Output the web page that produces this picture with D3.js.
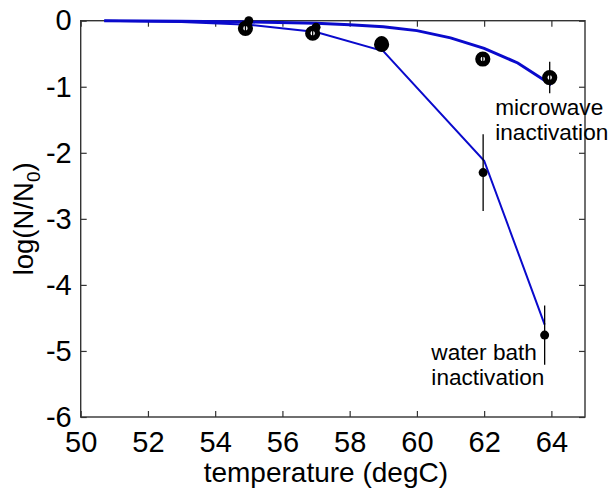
<!DOCTYPE html>
<html lang="en">
<head>
  <meta charset="UTF-8">
  <title>log(N/N0) vs temperature</title>
  <style>
    body { margin: 0; background: #fff; }
    svg { display: block; font-family: "Liberation Sans", Arial, sans-serif; }
  </style>
</head>
<body>
  <div id="chart-container"></div>

  <script src="https://d3js.org/d3.v7.min.js"></script>
  <script>
    // measured points (temperature, log reduction, error)
    const mwTemps = [54.9, 56.9, 58.95, 61.96, 63.95];
    const mwValues = [-0.115, -0.19, -0.36, -0.58, -0.86];
    const mwErrors = [0.05, 0.05, 0.05, 0.08, 0.24];

    const wbTemps = [55.0, 57.0, 58.95, 61.97, 63.8];
    const wbValues = [0.0, -0.1, -0.33, -2.3, -4.76];
    const wbErrors = [0.05, 0.05, 0.08, 0.58, 0.45];

    // model curves
    const mwFitTemps = [50.7, 53, 55, 57, 58, 59, 60, 61, 62, 63, 64];
    const mwFitValues = [0, -0.01, -0.02, -0.04, -0.06, -0.09, -0.15, -0.26, -0.42, -0.64, -0.97];

    const wbFitTemps = [50.7, 53, 55, 57, 59, 62, 63.8];
    const wbFitValues = [0, -0.02, -0.06, -0.17, -0.46, -2.12, -4.6];

    const xTicks = [50, 52, 54, 56, 58, 60, 62, 64];
    const yTicks = [0, -1, -2, -3, -4, -5, -6];

    const width = 614;
    const height = 500;
    const margin = { top: 20.7, right: 29, bottom: 83, left: 80.7 };
    const plotW = width - margin.left - margin.right;
    const plotH = height - margin.top - margin.bottom;

    const svg = d3.select('#chart-container')
      .append('svg')
      .attr('width', width)
      .attr('height', height);

    const g = svg.append('g')
      .attr('transform', `translate(${margin.left}, ${margin.top})`);

    const xScale = d3.scaleLinear().domain([50, 65]).range([0, plotW]);
    const yScale = d3.scaleLinear().domain([-6, 0]).range([plotH, 0]);

    const tickColor = '#333';

    // bottom axis with labels
    const xAxis = g.append('g')
      .attr('transform', `translate(0, ${plotH})`)
      .call(d3.axisBottom(xScale).tickValues(xTicks).tickSizeInner(-6).tickSizeOuter(0)
        .tickPadding(14).tickFormat(d => String(d)));
    // left axis with labels
    const yAxis = g.append('g')
      .call(d3.axisLeft(yScale).tickValues(yTicks).tickSizeInner(-6).tickSizeOuter(0)
        .tickPadding(9).tickFormat(d => String(d)));
    // top and right ticks only
    const topAxis = g.append('g')
      .call(d3.axisTop(xScale).tickValues(xTicks).tickSizeInner(-6).tickSizeOuter(0).tickFormat(''));
    const rightAxis = g.append('g')
      .attr('transform', `translate(${plotW}, 0)`)
      .call(d3.axisRight(yScale).tickValues(yTicks).tickSizeInner(-6).tickSizeOuter(0).tickFormat(''));

    [xAxis, yAxis, topAxis, rightAxis].forEach(a => {
      a.select('.domain').remove();
      a.selectAll('.tick line').attr('stroke', tickColor).attr('stroke-width', 1.2);
      a.selectAll('.tick text')
        .attr('fill', '#000')
        .style('font-size', '29px')
        .style('font-family', '"Liberation Sans", Arial, sans-serif');
    });

    // frame
    g.append('rect')
      .attr('x', 0).attr('y', 0)
      .attr('width', plotW).attr('height', plotH)
      .attr('fill', 'none')
      .attr('stroke', tickColor)
      .attr('stroke-width', 1.4);

    // fit lines
    const line = d3.line()
      .x(d => xScale(d[0]))
      .y(d => yScale(d[1]));

    g.append('path')
      .datum(mwFitTemps.map((t, i) => [t, mwFitValues[i]]))
      .attr('d', line)
      .attr('fill', 'none')
      .attr('stroke', '#0a0acc')
      .attr('stroke-width', 3);

    g.append('path')
      .datum(wbFitTemps.map((t, i) => [t, wbFitValues[i]]))
      .attr('d', line)
      .attr('fill', 'none')
      .attr('stroke', '#0a0acc')
      .attr('stroke-width', 2);

    const wbData = wbTemps.map((t, i) => ({ t: t, v: wbValues[i], e: wbErrors[i] }));
    const mwData = mwTemps.map((t, i) => ({ t: t, v: mwValues[i], e: mwErrors[i] }));

    // microwave: thick open circles
    g.selectAll('.mw-dot')
      .data(mwData)
      .enter()
      .append('circle')
      .attr('class', 'mw-dot')
      .attr('cx', d => xScale(d.t))
      .attr('cy', d => yScale(d.v))
      .attr('r', 4.9)
      .attr('fill', '#fff')
      .attr('stroke', '#000')
      .attr('stroke-width', 5.4);

    // water bath: filled dots
    g.selectAll('.wb-dot')
      .data(wbData)
      .enter()
      .append('circle')
      .attr('class', 'wb-dot')
      .attr('cx', d => xScale(d.t))
      .attr('cy', d => yScale(d.v))
      .attr('r', (d, i) => i == 2 ? 6.5 : 4.5)
      .attr('fill', '#000');

    // error bars
    g.selectAll('.err')
      .data(wbData.concat(mwData))
      .enter()
      .append('line')
      .attr('class', 'err')
      .attr('x1', d => xScale(d.t))
      .attr('x2', d => xScale(d.t))
      .attr('y1', d => yScale(d.v + d.e))
      .attr('y2', d => yScale(d.v - d.e))
      .attr('stroke', '#000')
      .attr('stroke-width', 1.3);

    // annotations
    const note = g.append('g')
      .style('font-size', '22.6px')
      .attr('fill', '#000');
    note.append('text').attr('x', xScale(62.33)).attr('y', yScale(-1.43)).text('microwave');
    note.append('text').attr('x', xScale(62.33)).attr('y', yScale(-1.81)).text('inactivation');
    note.append('text').attr('x', xScale(60.43)).attr('y', yScale(-5.13)).text('water bath');
    note.append('text').attr('x', xScale(60.43)).attr('y', yScale(-5.52)).text('inactivation');

    // axis titles
    svg.append('text')
      .attr('x', margin.left + plotW / 2 - 7)
      .attr('y', 482)
      .attr('text-anchor', 'middle')
      .style('font-size', '28px')
      .text('temperature (degC)');

    const yTitle = svg.append('text')
      .attr('transform', `translate(33, ${margin.top + plotH / 2}) rotate(-90)`)
      .attr('text-anchor', 'middle')
      .style('font-size', '27.5px');
    yTitle.append('tspan').text('log(N/N');
    yTitle.append('tspan').attr('dy', 7).style('font-size', '19px').text('0');
    yTitle.append('tspan').attr('dy', -7).text(')');
  </script>
</body>
</html>
